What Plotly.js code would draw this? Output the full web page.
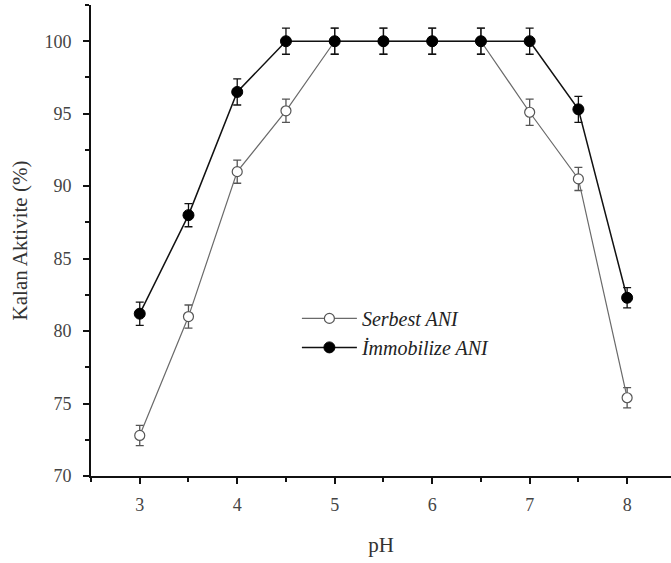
<!DOCTYPE html>
<html><head><meta charset="utf-8">
<script src="https://cdn.plot.ly/plotly-3.0.1.min.js"></script>
<style>html,body{margin:0;padding:0;background:#fff}#chart{width:671px;height:563px}</style>
</head><body><div id="chart"></div>
<script>
const pH = [3, 3.5, 4, 4.5, 5, 5.5, 6, 6.5, 7, 7.5, 8];
const serbest = [72.8, 81.0, 91.0, 95.2, 100, 100, 100, 100, 95.1, 90.5, 75.4];
const serbestErr = [0.7, 0.8, 0.8, 0.8, 0.9, 0.9, 0.9, 0.9, 0.9, 0.8, 0.7];
const immob = [81.2, 88.0, 96.5, 100, 100, 100, 100, 100, 100, 95.3, 82.3];
const immobErr = [0.8, 0.8, 0.9, 0.9, 0.9, 0.9, 0.9, 0.9, 0.9, 0.9, 0.7];
const names = ['Serbest ANI', 'İmmobilize ANI'];
const xTicks = [3, 4, 5, 6, 7, 8];
const yTicks = [70, 75, 80, 85, 90, 95, 100];

const font = 'Liberation Serif, Times New Roman, serif';
const traces = [
  {x: pH, y: serbest, name: names[0], type: 'scatter', mode: 'lines+markers',
   line: {color: '#6a6a6a', width: 1.2},
   marker: {symbol: 'circle', size: 10, color: '#ffffff', line: {color: '#555555', width: 1.2}},
   error_y: {type: 'data', array: serbestErr, visible: true, color: '#555555', thickness: 1.3, width: 4}},
  {x: pH, y: immob, name: names[1], type: 'scatter', mode: 'lines+markers',
   line: {color: '#111111', width: 1.5},
   marker: {symbol: 'circle', size: 11, color: '#000000', line: {color: '#000000', width: 1}},
   error_y: {type: 'data', array: immobErr, visible: true, color: '#111111', thickness: 1.3, width: 4}}
];
const layout = {
  width: 671, height: 563,
  margin: {l: 91, r: 0, t: 5, b: 87},
  paper_bgcolor: '#fff', plot_bgcolor: '#fff',
  font: {family: font, size: 16, color: '#444'},
  showlegend: true,
  legend: {x: 0.355, y: 0.376, xanchor: 'left', yanchor: 'top', bgcolor: 'rgba(0,0,0,0)',
           font: {family: font, size: 20, color: '#222', style: 'italic'}, itemwidth: 55,
           tracegroupgap: 0},
  xaxis: {range: [2.5, 8.45], tickvals: xTicks, ticktext: xTicks.map(String),
          showgrid: false, zeroline: false, showline: true, linecolor: '#111', linewidth: 2,
          ticks: 'outside', ticklen: 6, tickwidth: 2, tickcolor: '#111',
          minor: {dtick: 0.5, ticks: 'outside', ticklen: 4, tickwidth: 2, tickcolor: '#111', showgrid: false},
          title: {text: 'pH', font: {family: font, size: 21, color: '#333'}, standoff: 24},
          tickfont: {family: font, size: 18, color: '#444'}, ticklabelstandoff: 5},
  yaxis: {range: [70, 102.5], tickvals: yTicks, ticktext: yTicks.map(String),
          showgrid: false, zeroline: false, showline: true, linecolor: '#111', linewidth: 2,
          ticks: 'outside', ticklen: 6, tickwidth: 2, tickcolor: '#111',
          minor: {dtick: 2.5, ticks: 'outside', ticklen: 4, tickwidth: 2, tickcolor: '#111', showgrid: false},
          title: {text: 'Kalan Aktivite (%)', font: {family: font, size: 21, color: '#333'}, standoff: 11},
          tickfont: {family: font, size: 18, color: '#444'}, ticklabelstandoff: 8}
};
Plotly.newPlot('chart', traces, layout, {displayModeBar: false, staticPlot: true});
</script></body></html>
